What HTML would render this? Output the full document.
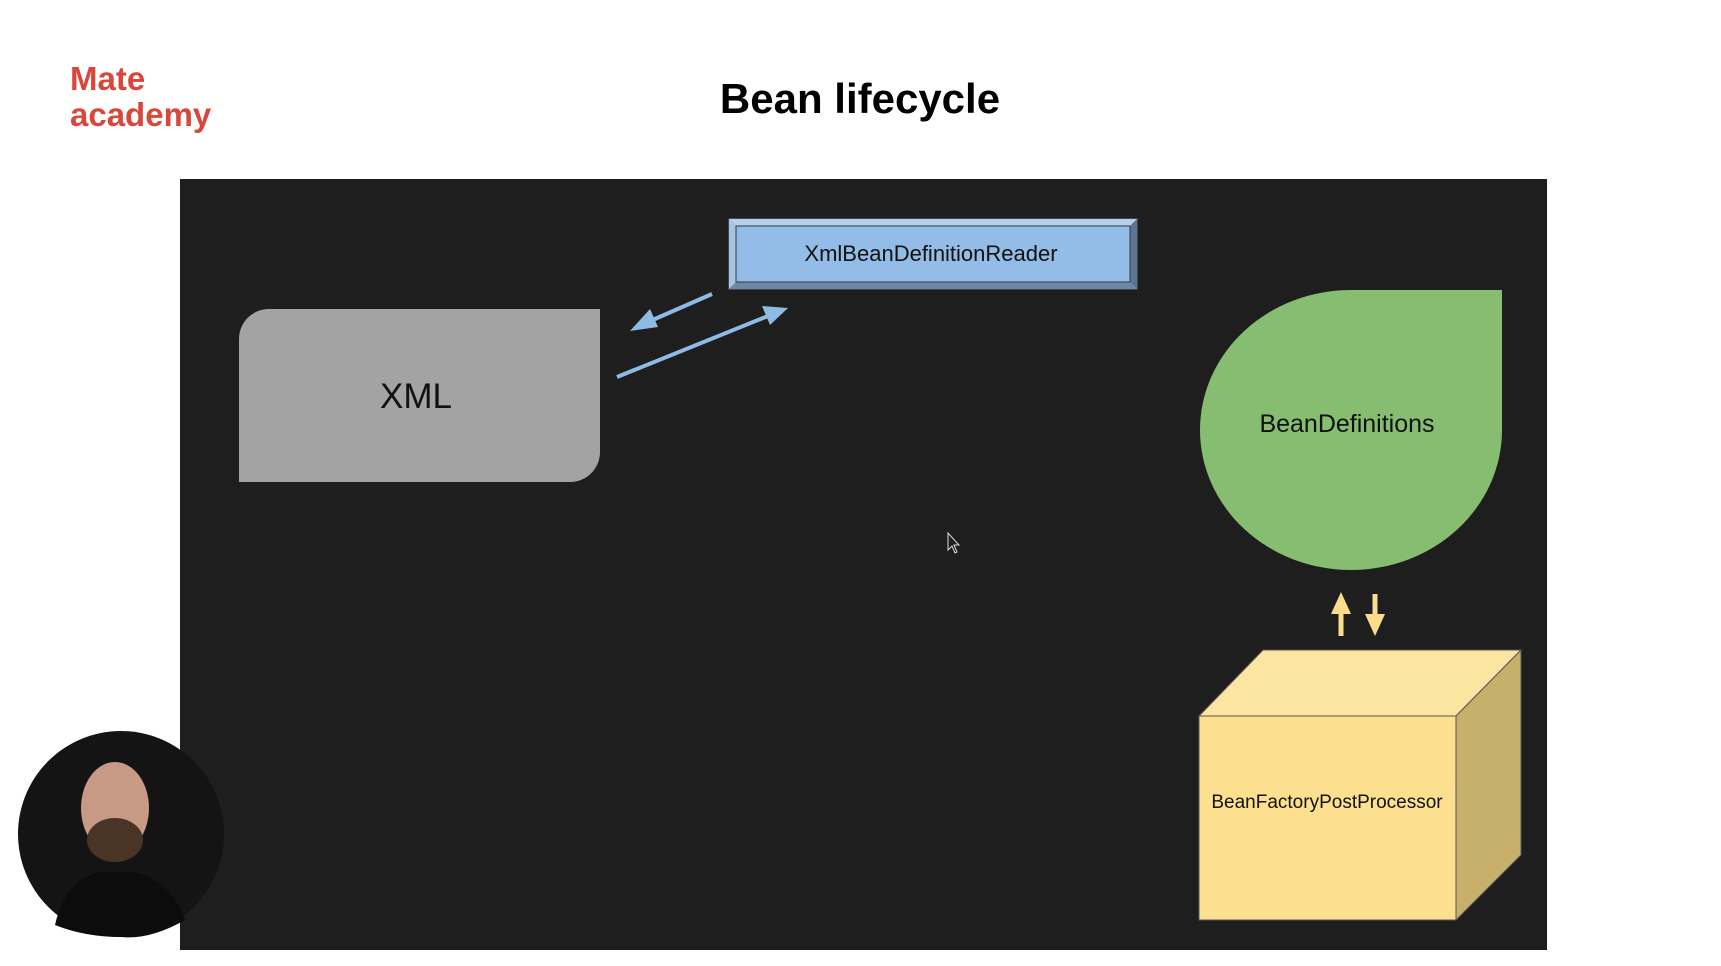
<!DOCTYPE html>
<html><head><meta charset="utf-8"><style>
html,body{margin:0;padding:0;background:#fff;width:1721px;height:966px;overflow:hidden}
svg{display:block}
</style></head><body>
<svg width="1721" height="966" viewBox="0 0 1721 966" xmlns="http://www.w3.org/2000/svg" font-family="Liberation Sans, sans-serif">
<rect width="1721" height="966" fill="#fff"/>
<text x="70" y="90" font-size="33" font-weight="bold" fill="#d9473b">Mate</text>
<text x="70" y="126" font-size="33" font-weight="bold" fill="#d9473b">academy</text>
<text x="860" y="113" font-size="42" font-weight="bold" text-anchor="middle" fill="#000">Bean lifecycle</text>
<rect x="180" y="179" width="1375" height="771" fill="#1e1e1e" transform="translate(0,0) scale(0.9942,1) translate(1.05,0)"/>
<!-- XML -->
<path d="M269 309 H600 V452 A30 30 0 0 1 570 482 H239 V339 A30 30 0 0 1 269 309 Z" fill="#a3a3a3"/>
<text x="416" y="408" font-size="35" text-anchor="middle" fill="#111">XML</text>
<!-- reader box -->
<rect x="729" y="219" width="408" height="70" fill="#7fa7d1" stroke="#5a6f88" stroke-width="1"/>
<polygon points="729,219 1137,219 1130,226 736,226" fill="#b7cfe8"/>
<polygon points="729,219 736,226 736,282 729,289" fill="#a9c4e0"/>
<polygon points="1137,219 1130,226 1130,282 1137,289" fill="#5d7590"/>
<polygon points="729,289 736,282 1130,282 1137,289" fill="#6d87a5"/>
<rect x="736" y="226" width="394" height="56" fill="#93bde6" stroke="#2d3a4a" stroke-width="1"/>
<text x="931" y="261" font-size="22" text-anchor="middle" fill="#111">XmlBeanDefinitionReader</text>
<!-- blue arrows -->
<line x1="712" y1="294" x2="648" y2="322" stroke="#8dbbe6" stroke-width="4"/>
<polygon points="630,331 650,309 658,327" fill="#8dbbe6"/>
<line x1="617" y1="377" x2="768" y2="316" stroke="#8dbbe6" stroke-width="4"/>
<polygon points="788,308 762,306 770,325" fill="#8dbbe6"/>
<!-- green teardrop -->
<path d="M1351 290 H1502 V430 A151 140 0 1 1 1351 290 Z" fill="#86bd70"/>
<text x="1347" y="432" font-size="25" text-anchor="middle" fill="#111">BeanDefinitions</text>
<!-- yellow arrows -->
<line x1="1341" y1="610" x2="1341" y2="636" stroke="#fbdc8c" stroke-width="5"/>
<polygon points="1341,592 1331,614 1351,614" fill="#fbdc8c"/>
<line x1="1375" y1="594" x2="1375" y2="616" stroke="#fbdc8c" stroke-width="5"/>
<polygon points="1375,636 1365,614 1385,614" fill="#fbdc8c"/>
<!-- cube -->
<g transform="translate(-7,-2)">
<polygon points="1206,718 1270,652 1528,652 1463,718" fill="#fce5a0" stroke="#555" stroke-width="1"/>
<polygon points="1463,718 1528,652 1528,857 1463,922" fill="#c6b06c" stroke="#555" stroke-width="1"/>
<rect x="1206" y="718" width="257" height="204" fill="#fce08f" stroke="#555" stroke-width="1"/>
<text x="1334" y="810" font-size="19" text-anchor="middle" fill="#111">BeanFactoryPostProcessor</text>
</g>
<!-- cursor -->
<path d="M948 533 L948 550 L952 546 L955 553 L957 552 L954 545 L959 545 Z" fill="#1e1e1e" stroke="#ddd" stroke-width="1"/>
<!-- webcam -->
<circle cx="121" cy="834" r="103" fill="#141414"/>
<ellipse cx="115" cy="808" rx="34" ry="46" fill="#c89a86"/>
<ellipse cx="115" cy="840" rx="28" ry="22" fill="#4a3426"/>
<path d="M55 925 Q65 880 100 872 L135 872 Q172 882 185 920 Q150 940 121 937 Q85 937 55 925 Z" fill="#0c0c0c"/>
</svg>
</body></html>
